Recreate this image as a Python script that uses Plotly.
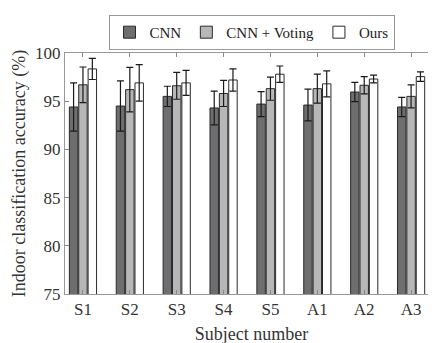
import plotly.graph_objects as go

subjects = ["S1", "S2", "S3", "S4", "S5", "A1", "A2", "A3"]
cnn = [94.4, 94.5, 95.5, 94.3, 94.7, 94.6, 95.95, 94.4]
cnn_err = [2.5, 2.6, 1.05, 1.75, 1.3, 1.65, 1.0, 1.0]
voting = [96.7, 96.2, 96.6, 95.8, 96.3, 96.3, 96.65, 95.5]
voting_err = [1.85, 2.3, 1.4, 1.35, 1.2, 1.5, 0.9, 1.2]
ours = [98.35, 96.9, 96.9, 97.2, 97.8, 96.8, 97.3, 97.55]
ours_err = [1.1, 1.9, 1.3, 1.15, 0.85, 1.35, 0.4, 0.5]

x = list(range(1, len(subjects) + 1))
font = "Liberation Serif"

fig = go.Figure()
series = [
    ("CNN", cnn, cnn_err, "#6e6e70"),
    ("CNN + Voting", voting, voting_err, "#b7b7b7"),
    ("Ours", ours, ours_err, "#ffffff"),
]
for name, vals, errs, col in series:
    fig.add_trace(go.Bar(
        x=x, y=vals, name=name,
        marker=dict(color=col, line=dict(color="#2a2a2a", width=1)),
        error_y=dict(type="data", array=errs, color="#1a1a1a", thickness=1.2, width=3.5),
    ))

fig.update_layout(
    width=436, height=343,
    margin=dict(l=57, r=6, t=45, b=57),
    barmode="group", bargap=0.4, bargroupgap=0.1,
    plot_bgcolor="white", paper_bgcolor="white",
    font=dict(family=font, size=17, color="#333333"),
    showlegend=True,
    legend=dict(
        orientation="h", x=0.5, y=1.158, xref="paper", yref="paper",
        xanchor="center", yanchor="top",
        bordercolor="#999999", borderwidth=1, bgcolor="white",
        font=dict(size=15, color="#222222"),
        tracegroupgap=0,
    ),
    xaxis=dict(
        range=[0.617, 8.574], tickvals=x, ticktext=subjects,
        ticks="inside", ticklen=4, tickcolor="#888888",
        showline=True, linecolor="#999999", mirror="ticks",
        showgrid=False, zeroline=False, automargin=False,
        title=dict(text="Subject number", font=dict(size=18), standoff=8),
    ),
    yaxis=dict(
        range=[75, 100], dtick=5,
        ticks="inside", ticklen=4, tickcolor="#888888",
        showline=True, linecolor="#999999", mirror="ticks",
        showgrid=False, zeroline=False, automargin=False,
        title=dict(text="Indoor classification accuracy (%)", font=dict(size=18), standoff=4),
    ),
)

fig.write_html("out.html")
